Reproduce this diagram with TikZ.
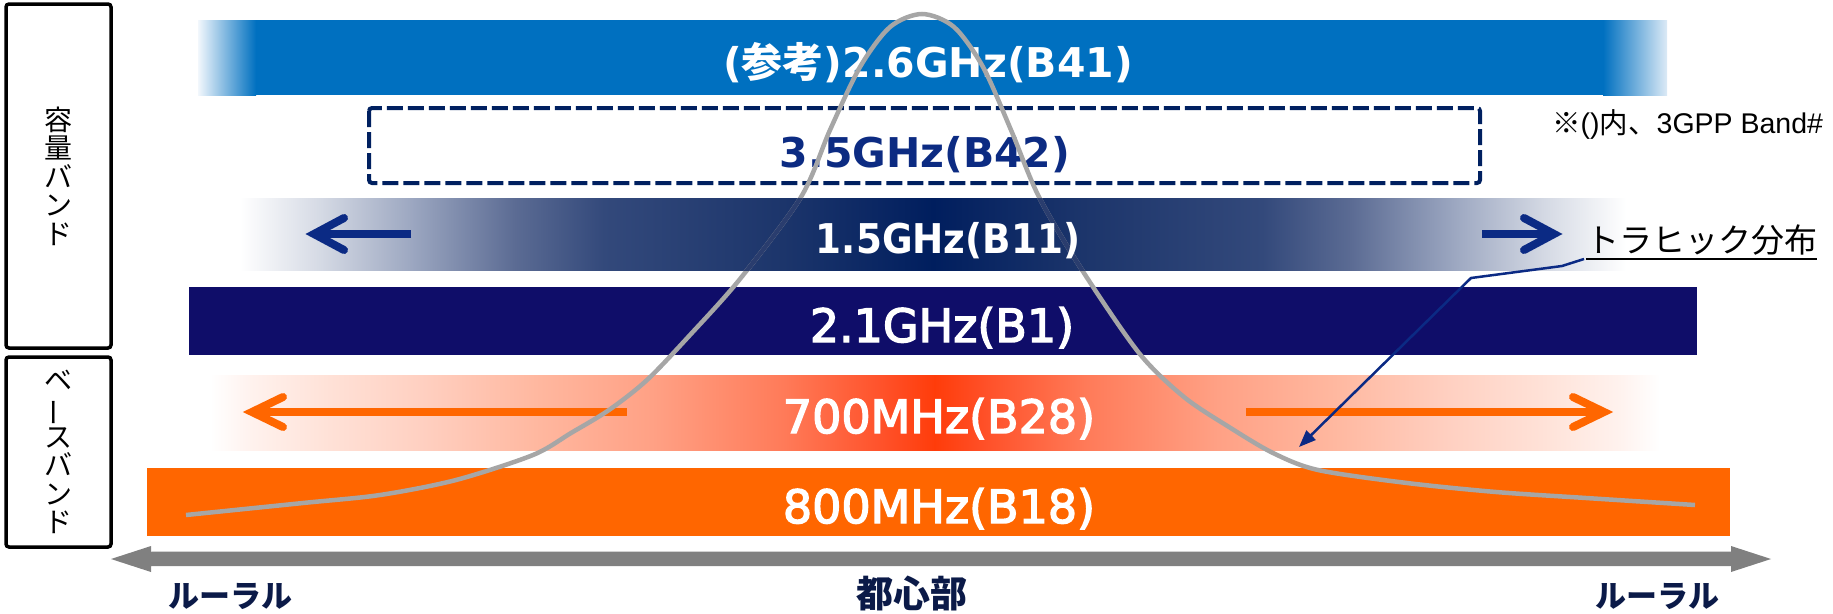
\documentclass[tikz,border=0pt]{standalone}
\usepackage{fontspec}
\usepackage{graphicx}
\usetikzlibrary{arrows.meta}
\newfontfamily\jp{Noto Sans CJK JP}
\newfontfamily\dv{DejaVu Sans}
\newfontfamily\dvm{DejaVu Sans}[FakeBold=3]
\newfontfamily\lib{Liberation Sans}
\definecolor{b26}{HTML}{0070C0}
\definecolor{b26e}{HTML}{DCEAF6}
\definecolor{b26s}{HTML}{F2F7FC}
\definecolor{dashc}{HTML}{002060}
\definecolor{t35}{HTML}{0C2B82}
\definecolor{b21}{HTML}{0F0D69}
\definecolor{o80}{HTML}{FF6600}
\definecolor{arrb}{HTML}{0B2A84}
\definecolor{curvec}{HTML}{A6A6A6}
\definecolor{curvein}{HTML}{2A3D6E}
\definecolor{axisc}{HTML}{808080}
\definecolor{navytxt}{HTML}{0B1A48}
\definecolor{b0}{HTML}{001E5E}
\definecolor{b1}{HTML}{1C356B}
\definecolor{b2}{HTML}{33497B}
\definecolor{b3}{HTML}{5C6C94}
\definecolor{b4}{HTML}{9BA6C0}
\definecolor{b5}{HTML}{D3D8E3}
\definecolor{r0}{HTML}{FF3C0A}
\definecolor{r1}{HTML}{FF5028}
\definecolor{r2}{HTML}{FF7A58}
\definecolor{r3}{HTML}{FFA084}
\definecolor{r4}{HTML}{FFB8A0}
\definecolor{r5}{HTML}{FFCFC0}
\definecolor{r6}{HTML}{FFE2D8}
\definecolor{r7}{HTML}{FFF2EE}
% symmetric piecewise gradient bar: #1 y top, #2 y bottom, #3 centre x, #4 list d1/c1/d2/c2
\newcommand\gradbar[4]{%
  \foreach \da/\ca/\db/\cb in {#4}{%
    \shade[left color=\cb, right color=\ca] (#3-\db,#1) rectangle (#3-\da+0.6,#2);
    \shade[left color=\ca, right color=\cb] (#3+\da-0.6,#1) rectangle (#3+\db,#2);
  }}
\begin{document}
\begin{tikzpicture}[x=1pt,y=-1pt,
  sidebox/.style={draw=black,line width=3.5pt,rounded corners=3pt,inner sep=0pt,
     align=center,font=\jp\fontsize{28}{28.5}\selectfont},
  bandb/.style={anchor=base,inner sep=0pt,font=\dv\bfseries\fontsize{41}{41}\selectfont},
  bandr/.style={anchor=base,inner sep=0pt,text=white,font=\dvm\fontsize{46}{46}\selectfont},
  barrow/.style={draw=arrb,line width=8pt},
  oarrow/.style={draw=o80,line width=8pt},
  chevb/.style={draw=arrb,line width=8pt,line cap=round,line join=miter},
  chevo/.style={draw=o80,line width=8pt,line cap=round,line join=miter},
  labtxt/.style={anchor=base,inner sep=0pt,text=navytxt},
  curve/.style={draw=curvec,line width=4.5pt},
]
\useasboundingbox (0,0) rectangle (1833,613);

% side boxes
\node[sidebox,minimum width=105pt,minimum height=344pt] (cap) at (58.5,176) {容\\量\\バ\\ン\\ド};
\node[sidebox,minimum width=105pt,minimum height=190pt] (base) at (58.5,452) {ベ\\\rotatebox[origin=c]{90}{ー}\\ス\\バ\\ン\\ド};

% 2.6 GHz bar
\fill[b26] (255,20) rectangle (1604,95);
\shade[left color=b26s,right color=b26] (198,20) rectangle (256,95);
\shade[left color=b26,right color=b26e] (1603,20) rectangle (1667,95);

% 3.5 GHz dashed box
\draw[dashc,line width=4pt,dash pattern=on 16pt off 5pt,rounded corners=3pt] (369,108) rectangle (1480,183);

% 2.1 GHz bar
\fill[b21] (189,287) rectangle (1697,355);

% 700 MHz bar
\gradbar{375}{450}{935}{0/r0/50/r1, 50/r1/150/r2, 150/r2/280/r3, 280/r3/400/r4, 400/r4/510/r5, 510/r5/610/r6, 610/r6/685/r7, 685/r7/725/white}

% 800 MHz bar
\fill[o80] (147,468) rectangle (1730,536);

% 1.5 GHz bar
\gradbar{198}{270}{933}{0/b0/150/b1, 150/b1/330/b2, 330/b2/420/b3, 420/b3/520/b4, 520/b4/610/b5, 610/b5/693/white}

% axis
\fill[axisc] (111,559) -- (151,546) -- (151,552) -- (1731,552) -- (1731,546) -- (1771,559)
   -- (1731,572) -- (1731,566) -- (151,566) -- (151,572) -- cycle;
\draw[draw=black!18,line width=1.2pt] (151,551.6) -- (1731,551.6);

% band labels
\node[bandb,text=white] (t26) at (928,77) {({\jp 参考})2.6GHz(B41)};
\node[bandb,text=t35] (t35) at (925,167) {3.5GHz(B42)};
\node[bandr] (t21) at (942,342) {2.1GHz(B1)};
\node[bandr] (t70) at (939,433) {700MHz(B28)};
\node[bandr] (t80) at (939,523) {800MHz(B18)};

% arrows in 1.5 GHz bar
\coordinate (bls) at (411,234); \coordinate (blt) at (314,234);
\coordinate (brs) at (1482,234); \coordinate (brt) at (1554,234);
\draw[barrow] (bls) -- (blt);
\draw[chevb] ([shift={(30,-16)}]blt) -- (blt) -- ([shift={(30,16)}]blt);
\draw[barrow] (brs) -- (brt);
\draw[chevb] ([shift={(-30,-16)}]brt) -- (brt) -- ([shift={(-30,16)}]brt);

% arrows in 700 MHz bar
\coordinate (ols) at (627,412); \coordinate (olt) at (252,412);
\coordinate (ors) at (1246,412); \coordinate (ort) at (1604,412);
\draw[oarrow] (ols) -- (olt);
\draw[chevo] ([shift={(31,-15)}]olt) -- (olt) -- ([shift={(31,15)}]olt);
\draw[oarrow] (ors) -- (ort);
\draw[chevo] ([shift={(-31,-15)}]ort) -- (ort) -- ([shift={(-31,15)}]ort);

% traffic curve
\def\curvepts{(186,515) (303,503) (380,495) (456,480) (533,455) (571,433) (609,410) (647,380) (690,335) (740,279) (801,197) (830,130) (860,67) (890,27) (922,14) (954,27) (983,67) (1011,130) (1039,197) (1082,270) (1139,353) (1184,397) (1229,427) (1273,453) (1318,470) (1407,483) (1496,492) (1586,498) (1695,505)}
\draw[curve] plot[smooth,tension=0.5] coordinates {\curvepts};
\begin{scope}
  \clip (700,198) rectangle (1150,270);
  \draw[draw=curvein,line width=4.5pt] plot[smooth,tension=0.5] coordinates {\curvepts};
\end{scope}
\node[bandb,text=white] (t15) at (948,253) {\scalebox{0.91}[1]{1.5GHz(B11)}};

% axis labels
\node[labtxt,font=\jp\bfseries\fontsize{31}{31}\selectfont] (rl) at (230,607) {ルーラル};
\node[labtxt,font=\jp\bfseries\fontsize{37}{37}\selectfont] (tc) at (912,607) {都心部};
\node[labtxt,font=\jp\bfseries\fontsize{31}{31}\selectfont] (rr) at (1657,607) {ルーラル};

% note
\node[anchor=base west,inner sep=0pt,font=\lib\fontsize{28.5}{28.5}\selectfont] (note) at (1552,133) {{\jp ※}(){\jp 内、}3GPP Band\#};

% traffic label + leader
\node[anchor=base west,inner sep=0pt,font=\jp\fontsize{33}{33}\selectfont] (traf) at (1586,252) {トラヒック分布};
\draw[black,line width=1.5pt] ([yshift=-7pt]traf.base west) -- ([yshift=-7pt]traf.base east);
\coordinate (L0) at (1584,259);
\coordinate (L1) at (1562,266);
\coordinate (L2) at (1471,278);
\coordinate (L3) at (1299,447);
\draw[arrb,line width=2.5pt,-{Triangle[length=17pt,width=13pt]}] (L0) -- (L1) -- (L2) -- (L3);
\end{tikzpicture}
\end{document}
